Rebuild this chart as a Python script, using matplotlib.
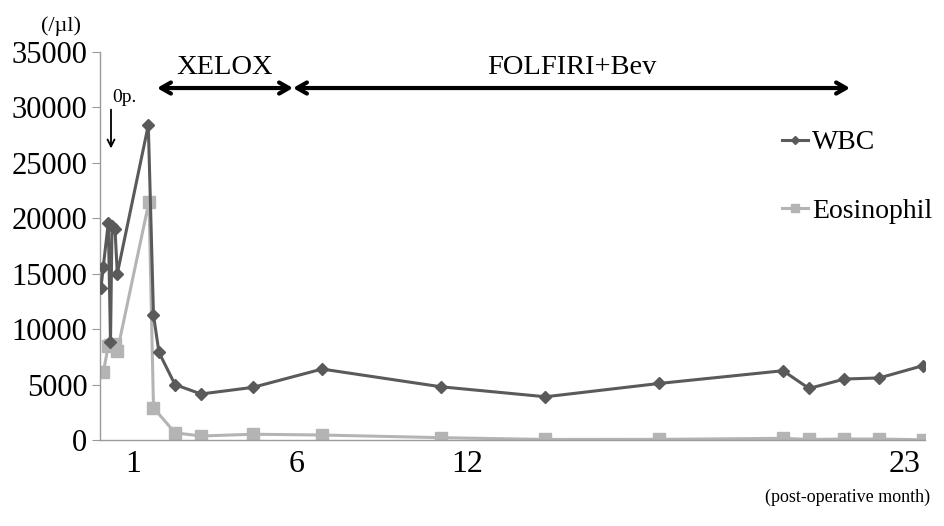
import matplotlib
matplotlib.use("Agg")
import matplotlib.pyplot as plt

# timeline position (chart date-axis units), values per µl
wbc_x = [1, 3.3, 8.3, 10.5, 12, 15, 17.3, 48.3, 53.5, 59, 75, 101, 153, 222,
         341, 445.5, 559, 683, 709, 744.5, 779.3, 822.7]
wbc = [13750, 15650, 19600, 8800, 19300, 19000, 15000, 28400, 11250, 7900, 5000,
       4150, 4750, 6400, 4800, 3900, 5100, 6250, 4650, 5500, 5600, 6700]

eos_x = [3.3, 8.3, 10.5, 15, 17.3, 49, 53.5, 75, 101, 153, 222,
         341, 445.5, 559, 683, 709, 744.5, 779.3, 822.7]
eos = [6100, 8500, 8600, 8700, 8000, 21500, 2900, 650, 360, 520, 450,
       210, 50, 60, 150, 50, 90, 90, 20]

month_ticks = [33, 197, 367, 805]
month_labels = ["1", "6", "12", "23"]

# treatment periods: (label, start, end)
regimens = [("XELOX", 57, 193), ("FOLFIRI+Bev", 193, 750)]

plt.rcParams["font.family"] = ["Liberation Serif", "DejaVu Serif"]

fig = plt.figure(figsize=(9.45, 5.26), dpi=100)
ax = fig.add_axes([100 / 945, 1 - 440 / 526, 825 / 945, 388 / 526])

ax.plot(wbc_x, wbc, color="#5a5a5a", lw=2.2, marker="D", ms=6.5,
        label="WBC", zorder=3)
ax.plot(eos_x, eos, color="#b4b4b4", lw=2.2, marker="s", ms=8.5,
        label="Eosinophil", zorder=2)

ax.set_xlim(0, 825)
ax.set_ylim(0, 35000)
ax.set_yticks(range(0, 35001, 5000))
ax.set_xticks(month_ticks)
ax.set_xticklabels(month_labels)
ax.tick_params(axis="y", labelsize=22, length=6, color="#9a9a9a", pad=3)
ax.tick_params(axis="x", labelsize=23, length=0, pad=7)

for side in ["top", "right"]:
    ax.spines[side].set_visible(False)
for side in ["left", "bottom"]:
    ax.spines[side].set_color("#9a9a9a")
    ax.spines[side].set_linewidth(1.0)

# regimen arrows
for name, start, end in regimens:
    ax.annotate("", xy=(start, 31750), xytext=(end, 31750),
                arrowprops=dict(arrowstyle="<->,head_length=0.7,head_width=0.4",
                                lw=3, color="black", shrinkA=0, shrinkB=0))
    ax.text((start + end) / 2, 33600, name, ha="center", va="center", fontsize=20.5)

# operation marker
ax.text(24, 30900, "0p.", ha="center", va="center", fontsize=14)
ax.annotate("", xy=(11, 26300), xytext=(11, 29800),
            arrowprops=dict(arrowstyle="->,head_length=0.5,head_width=0.25",
                            lw=1.3, color="black", shrinkA=0, shrinkB=0))

fig.text(61 / 945, 1 - 26 / 526, "(/µl)", ha="center", va="center", fontsize=16)
fig.text(930 / 945, 1 - 497 / 526, "(post-operative month)", ha="right",
         va="center", fontsize=13)

ax.legend(loc="upper left", bbox_to_anchor=(782 / 945, 1 - 130 / 526),
          bbox_transform=fig.transFigure, frameon=False, fontsize=20,
          handlelength=0.95, handletextpad=0.12, labelspacing=1.55,
          borderpad=0, borderaxespad=0, markerscale=0.6)

fig.savefig("out.png", dpi=100)
